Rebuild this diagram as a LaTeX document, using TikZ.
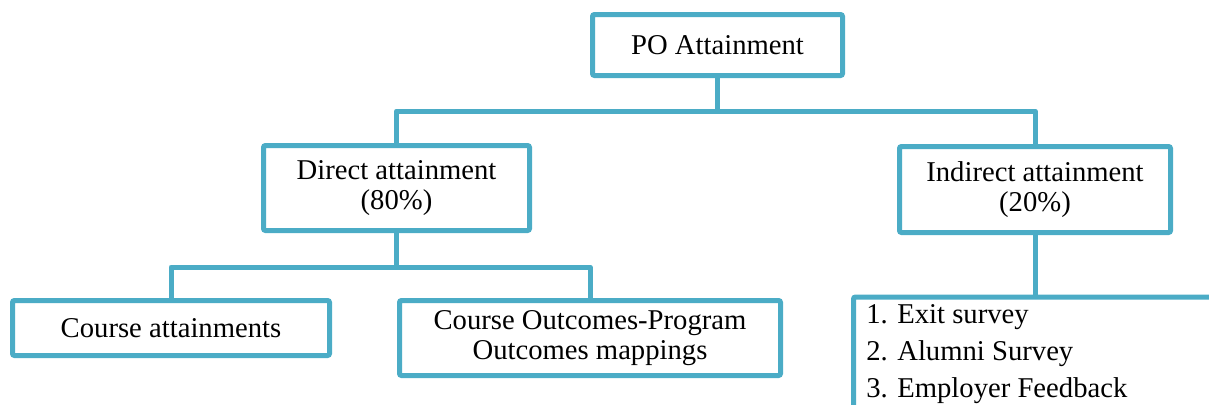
\documentclass[tikz,border=0pt]{standalone}
\usepackage{fontspec}
\setmainfont{Liberation Serif}
\definecolor{poblue}{HTML}{4BACC6}

\begin{document}
\begin{tikzpicture}[x=0.75pt, y=-0.75pt,
  box/.style={draw=poblue, line width=3.75pt, rounded corners=1.5pt, fill=white,
    inner sep=0pt, align=center, font=\fontsize{21.5}{22.5}\selectfont},
  link/.style={draw=poblue, line width=3.75pt, line join=round}]
  \useasboundingbox (0,0) rectangle (1209,404);
  \clip (0,0) rectangle (1209,404);
  % 顶层
  \node[box, minimum width=187.5pt, minimum height=45.75pt] (po) at (717.5,45) {PO Attainment};
  % 第二层
  \node[box, minimum width=199.5pt, minimum height=63.75pt] (direct) at (396.5,188) {Direct attainment\\(80\%)};
  \node[box, minimum width=203.25pt, minimum height=64.5pt] (indirect) at (1035,189.5) {Indirect attainment\\(20\%)};
  % 第三层
  \node[box, minimum width=237.75pt, minimum height=41.25pt] (course) at (171,328) {Course attainments};
  \node[box, minimum width=285.75pt, minimum height=56.25pt] (copo) at (590,338) {Course Outcomes-Program\\Outcomes mappings};
  \node[box, anchor=north west, minimum width=450pt, minimum height=150pt] (survey) at (851,294.5) {};
  \node[anchor=north west, inner sep=0pt, align=left, font=\fontsize{21.5}{28}\selectfont]
    (surveytext) at ([xshift=11.25pt, yshift=-7pt]survey.north west)
    {1. Exit survey\\2. Alumni Survey\\3. Employer Feedback};
  % 连线
  \coordinate (j1) at (717.5,111);
  \coordinate (j2) at (396.5,267);
  \draw[link] (po.south) -- (j1);
  \draw[link] (direct.north) |- (j1) -| (indirect.north);
  \draw[link] (direct.south) -- (j2);
  \draw[link] (course.north) |- (j2) -| (copo.north);
  \draw[link] (indirect.south) -- (indirect.south |- survey.north);
\end{tikzpicture}
\end{document}
